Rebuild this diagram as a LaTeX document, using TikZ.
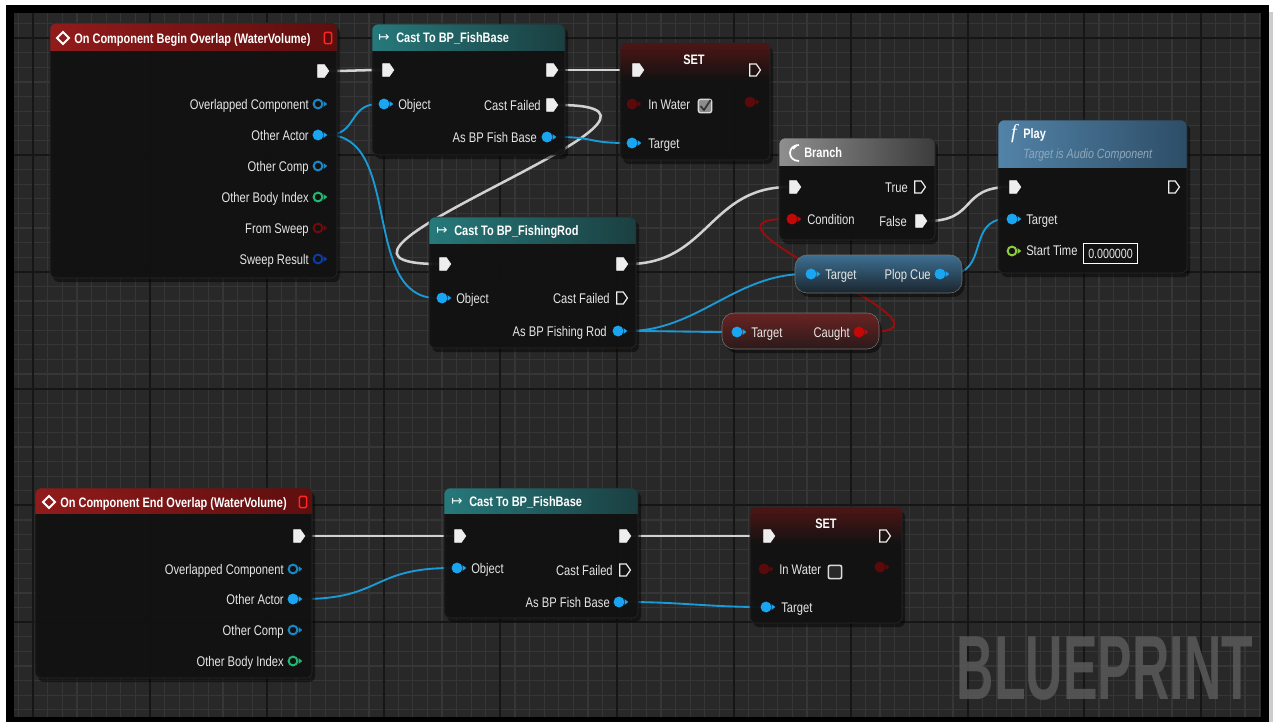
\documentclass[tikz,border=0pt]{standalone}
\usepackage{fontspec}
\usepackage{graphicx}
\setmainfont{Liberation Sans}[FakeStretch=0.8]
\newfontfamily\symfont{DejaVu Sans}
\newfontfamily\fserif{Liberation Serif}
\usetikzlibrary{shapes.symbols}
\definecolor{gridbg}{HTML}{282828}
\definecolor{gridmin}{HTML}{363636}
\definecolor{gridmaj}{HTML}{161616}
\definecolor{nodebg}{HTML}{121212}
\definecolor{nodeedge}{HTML}{2A2A2A}
\definecolor{evL}{HTML}{921B1B}
\definecolor{evR}{HTML}{5E0E0E}
\definecolor{castL}{HTML}{26797B}
\definecolor{castR}{HTML}{1B3F41}
\definecolor{playL}{HTML}{5283A8}
\definecolor{playR}{HTML}{2D4D66}
\definecolor{brL}{HTML}{8F8F8F}
\definecolor{brR}{HTML}{3C3C3C}
\definecolor{setR}{HTML}{4E1515}
\definecolor{lblc}{HTML}{E6E6E6}
\definecolor{execW}{HTML}{EEEEEE}
\definecolor{wireW}{HTML}{D2D2D2}
\definecolor{wireB}{HTML}{1B9AD8}
\definecolor{wireR}{HTML}{9A0D0D}
\definecolor{pinB}{HTML}{1AA5F2}
\definecolor{pinB2}{HTML}{1A86C4}
\definecolor{pinG}{HTML}{22B573}
\definecolor{pinDR}{HTML}{6E0B0B}
\definecolor{pinDB}{HTML}{0C3C9C}
\definecolor{pinR}{HTML}{C40808}
\definecolor{pinYG}{HTML}{8FCA3C}
\definecolor{pinDark}{HTML}{5A0A0A}
\definecolor{subt}{HTML}{8FA8BB}
\definecolor{plopT}{HTML}{3D6F92}
\definecolor{plopB}{HTML}{1B252D}
\definecolor{caughtT}{HTML}{6A2323}
\definecolor{caughtB}{HTML}{2A1A1A}
\definecolor{wmc}{HTML}{5A5A5A}
\pgfdeclarelayer{gridL}
\pgfdeclarelayer{wireL}
\pgfsetlayers{gridL,wireL,main}
\tikzset{
 exe/.style={signal, signal to=east, signal pointer angle=110, minimum width=8.5pt, minimum height=9.5pt, inner sep=0pt, fill=execW, draw=execW, line width=0.4pt},
 exeh/.style={signal, signal to=east, signal pointer angle=110, minimum width=8pt, minimum height=9pt, inner sep=0pt, draw=execW, line width=0.9pt},
 pinf/.style={circle, fill=#1, minimum size=8.2pt, inner sep=0pt},
 pinr/.style={circle, draw=#1, line width=1.5pt, minimum size=6.6pt, inner sep=0pt},
 lbl/.style={text=lblc, font=\fontsize{10.5}{12}\selectfont, inner sep=0pt},
 ttl/.style={text=white, font=\bfseries\fontsize{10.3}{12}\selectfont, inner sep=0pt},
 wexec/.style={draw=wireW, line width=1.9pt},
 wblue/.style={draw=wireB, line width=1.4pt},
 wred/.style={draw=wireR, line width=1.4pt},
 evpin/.style={rectangle, rounded corners=1pt, draw=red!85!white, fill=pinDark, line width=1.1pt, minimum width=5.5pt, minimum height=8.5pt, inner sep=0pt},
 chkon/.style={rectangle, rounded corners=1.5pt, fill=black!45, draw=black!15, line width=1pt, minimum size=10pt, inner sep=0pt},
 chkoff/.style={rectangle, rounded corners=1.5pt, fill=gridbg, draw=black!15, line width=1.2pt, minimum size=10pt, inner sep=0pt},
 valbox/.style={rectangle, draw=white, line width=0.8pt, minimum width=41pt, minimum height=15.5pt, inner sep=0pt, text=lblc, font=\fontsize{10}{12}\selectfont},
 gridminor/.style={draw=gridmin, line width=0.8pt},
 gridmajor/.style={draw=gridmaj, line width=1.4pt},
 icon/.style={text=white, inner sep=0pt, font=\symfont\fontsize{10}{10}\selectfont},
}
\newcommand\dpin[5]{\node[#4=#5] (#1) at (#2,#3) {};
 \fill[#5] (#2+5.5,#3-3) -- (#2+9.2,#3) -- (#2+5.5,#3+3) -- cycle;}
\newcommand\bpbox[6]{%
 \fill[black,opacity=.45,rounded corners=4.5pt] (#1+3,#2+4) rectangle (#3+3,#4+4);
 \fill[nodebg,opacity=.93,rounded corners=4.5pt] (#1,#2) rectangle (#3,#4);
 \begin{scope}\clip[rounded corners=4.5pt] (#1,#2) rectangle (#3,#4);
 \shade[#6] (#1,#2) rectangle (#3,#5);\end{scope}
 \draw[nodeedge,rounded corners=4.5pt] (#1,#2) rectangle (#3,#4);}
\newcommand\bppill[6]{%
 \fill[black,opacity=.45,rounded corners=9pt] (#1+3,#2+4) rectangle (#3+3,#4+4);
 \shade[top color=#5, bottom color=#6, rounded corners=9pt] (#1,#2) rectangle (#3,#4);
 \draw[black!55, rounded corners=9pt] (#1,#2) rectangle (#3,#4);}
\begin{document}
\begin{tikzpicture}[x=0.75pt,y=-0.75pt]
\useasboundingbox (0,0) rectangle (1278,722);
\begin{pgfonlayer}{gridL}
\fill[white] (0,0) rectangle (1278,722);
\fill[black!20] (1269,12) rectangle (1273,722);
\fill[black] (6,5) rectangle (1269,722);
\fill[gridbg] (14,13) rectangle (1261,717);
\begin{scope}
\clip (14,13) rectangle (1261,717);
\foreach \k in {-10,...,76} \draw[gridminor] ({150+\k*14.6},13) -- ({150+\k*14.6},717);
\foreach \k in {-10,...,39} \draw[gridminor] (14,{155+\k*14.6}) -- (1261,{155+\k*14.6});
\foreach \k in {-2,...,10} \draw[gridmajor] ({150+\k*116.8},13) -- ({150+\k*116.8},717);
\foreach \k in {-2,...,5} \draw[gridmajor] (14,{155+\k*116.8}) -- (1261,{155+\k*116.8});
\end{scope}
\node[inner sep=0pt, text=wmc, text opacity=.85] (wm) at (1105,668.5) {\resizebox{222pt}{47pt}{\bfseries BLUEPRINT}};
\end{pgfonlayer}

% ---------- Begin overlap event ----------
\bpbox{50}{23}{337}{278}{50}{left color=evL, right color=evR}
\draw[white, line width=1.4pt] (63,32)--(69,38)--(63,44)--(57,38)--cycle;
\node[ttl, anchor=mid west] (A_t) at (74,39.5) {On Component Begin Overlap (WaterVolume)};
\node[evpin] (A_del) at (328,38) {};
\node[exe] (A_x) at (321,71) {};
\dpin{A_oc}{318}{104}{pinr}{pinB2}
\dpin{A_oa}{318}{135}{pinf}{pinB}
\dpin{A_cp}{318}{166}{pinr}{pinB2}
\dpin{A_bi}{318}{197}{pinr}{pinG}
\dpin{A_fs}{318}{228}{pinr}{pinDR}
\dpin{A_sr}{318}{259}{pinr}{pinDB}
\node[lbl, anchor=mid east] (A_l1) at (309,105.5) {Overlapped Component};
\node[lbl, anchor=mid east] (A_l2) at (309,136.5) {Other Actor};
\node[lbl, anchor=mid east] (A_l3) at (309,167.5) {Other Comp};
\node[lbl, anchor=mid east] (A_l4) at (309,198.5) {Other Body Index};
\node[lbl, anchor=mid east] (A_l5) at (309,229.5) {From Sweep};
\node[lbl, anchor=mid east] (A_l6) at (309,260.5) {Sweep Result};

% ---------- Cast To BP_FishBase (top) ----------
\bpbox{372}{24}{565}{155}{50}{left color=castL, right color=castR}
\node[icon] (B_ic) at (384,38) {↦};
\node[ttl, anchor=mid west] (B_t) at (396,39) {Cast To BP\_FishBase};
\node[exe] (B_in) at (386,70) {};
\node[exe] (B_out) at (550,70) {};
\dpin{B_obj}{384}{104}{pinf}{pinB}
\node[lbl, anchor=mid west] (B_l1) at (398,105.5) {Object};
\node[exe] (B_cf) at (550,105) {};
\node[lbl, anchor=mid east] (B_l2) at (541,106.5) {Cast Failed};
\dpin{B_as}{547}{137}{pinf}{pinB}
\node[lbl, anchor=mid east] (B_l3) at (537,138.5) {As BP Fish Base};

% ---------- SET (top) ----------
\bpbox{620}{43}{770}{160}{80}{top color=setR, bottom color=nodebg}
\node[ttl] (C_t) at (694,60) {SET};
\node[exe] (C_in) at (636,70) {};
\node[exeh] (C_out) at (753,70) {};
\dpin{C_iw}{632}{104}{pinf}{pinDark}
\node[lbl, anchor=mid west] (C_l1) at (648,105.5) {In Water};
\node[chkon] (C_cb) at (705,106) {};
\draw[black!80, line width=1.3pt] (700.5,106) -- (704,110) -- (710.5,100);
\dpin{C_ow}{750}{102}{pinf}{pinDark}
\dpin{C_tg}{632}{143}{pinf}{pinB}
\node[lbl, anchor=mid west] (C_l2) at (648,144.5) {Target};

% ---------- Branch ----------
\bpbox{779}{138}{935}{240}{165}{left color=brL, right color=brR}
\draw[white, line width=1.3pt] (799,145) .. controls (787,145) and (787,161) .. (799,161);
\draw[white, line width=1.3pt] (793,149) -- (797,145);
\node[ttl, anchor=mid west] (D_t) at (804,154) {Branch};
\node[exe] (D_in) at (793,187) {};
\node[lbl, anchor=mid east] (D_l1) at (908,188.5) {True};
\node[exeh] (D_t2) at (918,187) {};
\dpin{D_c}{792}{219}{pinf}{pinR}
\node[lbl, anchor=mid west] (D_l2) at (807,221) {Condition};
\node[lbl, anchor=mid east] (D_l3) at (907,222.5) {False};
\node[exe] (D_f) at (919,221) {};

% ---------- Play ----------
\bpbox{998}{120}{1187}{273}{167}{left color=playL, right color=playR}
\node[text=white, inner sep=0pt] (E_f) at (1014,134) {\fserif\itshape\fontsize{15}{15}\selectfont f};
\node[ttl, anchor=mid west] (E_t) at (1023,135) {Play};
\node[text=subt, inner sep=0pt, anchor=mid west, font=\itshape\fontsize{10}{12}\selectfont] (E_sub) at (1023,155) {Target is Audio Component};
\node[exe] (E_in) at (1013,187) {};
\node[exeh] (E_out) at (1172,187) {};
\dpin{E_tg}{1012}{219}{pinf}{pinB}
\node[lbl, anchor=mid west] (E_l1) at (1026,220.5) {Target};
\dpin{E_st}{1012}{251}{pinr}{pinYG}
\node[lbl, anchor=mid west] (E_l2) at (1026,251.5) {Start Time};
\node[valbox] (E_val) at (1110.5,253.5) {0.000000};

% ---------- Plop Cue getter ----------
\bppill{795}{255}{962}{293}{plopT}{plopB}
\dpin{F_tg}{811}{274}{pinf}{pinB}
\node[lbl, anchor=mid west] (F_l1) at (825,275.5) {Target};
\node[lbl, anchor=mid east] (F_l2) at (931,275.5) {Plop Cue};
\dpin{F_pc}{940}{274}{pinf}{pinB}

% ---------- Caught getter ----------
\bppill{722}{313}{879}{349}{caughtT}{caughtB}
\dpin{G_tg}{737}{332}{pinf}{pinB}
\node[lbl, anchor=mid west] (G_l1) at (751,333.5) {Target};
\node[lbl, anchor=mid east] (G_l2) at (850,333.5) {Caught};
\dpin{G_c}{859}{332}{pinf}{pinR}

% ---------- Cast To BP_FishingRod ----------
\bpbox{429}{217}{636}{348}{243}{left color=castL, right color=castR}
\node[icon] (H_ic) at (442,231) {↦};
\node[ttl, anchor=mid west] (H_t) at (454,232) {Cast To BP\_FishingRod};
\node[exe] (H_in) at (443,264) {};
\node[exe] (H_out) at (620,264) {};
\dpin{H_obj}{442}{298}{pinf}{pinB}
\node[lbl, anchor=mid west] (H_l1) at (456,299.5) {Object};
\node[exeh] (H_cf) at (620,298) {};
\node[lbl, anchor=mid east] (H_l2) at (610,299.5) {Cast Failed};
\dpin{H_as}{618}{331}{pinf}{pinB}
\node[lbl, anchor=mid east] (H_l3) at (607,332.5) {As BP Fishing Rod};

% ---------- End overlap event ----------
\bpbox{35}{488}{312}{678}{513}{left color=evL, right color=evR}
\draw[white, line width=1.4pt] (49,496)--(55,502)--(49,508)--(43,502)--cycle;
\node[ttl, anchor=mid west] (I_t) at (60,503.5) {On Component End Overlap (WaterVolume)};
\node[evpin] (I_del) at (303,502) {};
\node[exe] (I_x) at (297,536) {};
\dpin{I_oc}{293}{569}{pinr}{pinB2}
\dpin{I_oa}{293}{599}{pinf}{pinB}
\dpin{I_cp}{293}{630}{pinr}{pinB2}
\dpin{I_bi}{293}{661}{pinr}{pinG}
\node[lbl, anchor=mid east] (I_l1) at (284,570.5) {Overlapped Component};
\node[lbl, anchor=mid east] (I_l2) at (284,600.5) {Other Actor};
\node[lbl, anchor=mid east] (I_l3) at (284,631.5) {Other Comp};
\node[lbl, anchor=mid east] (I_l4) at (284,662.5) {Other Body Index};

% ---------- Cast To BP_FishBase (bottom) ----------
\bpbox{444}{488}{638}{618}{513}{left color=castL, right color=castR}
\node[icon] (J_ic) at (457,502) {↦};
\node[ttl, anchor=mid west] (J_t) at (469,503) {Cast To BP\_FishBase};
\node[exe] (J_in) at (458,536) {};
\node[exe] (J_out) at (623,536) {};
\dpin{J_obj}{457}{568}{pinf}{pinB}
\node[lbl, anchor=mid west] (J_l1) at (471,569.5) {Object};
\node[exeh] (J_cf) at (623,570) {};
\node[lbl, anchor=mid east] (J_l2) at (613,571.5) {Cast Failed};
\dpin{J_as}{619}{602}{pinf}{pinB}
\node[lbl, anchor=mid east] (J_l3) at (610,603.5) {As BP Fish Base};

% ---------- SET (bottom) ----------
\bpbox{750}{507}{902}{623}{544}{top color=setR, bottom color=nodebg}
\node[ttl] (K_t) at (826,524) {SET};
\node[exe] (K_in) at (767,536) {};
\node[exeh] (K_out) at (883,536) {};
\dpin{K_iw}{764}{569}{pinf}{pinDark}
\node[lbl, anchor=mid west] (K_l1) at (779,570.5) {In Water};
\node[chkoff] (K_cb) at (835,572) {};
\dpin{K_ow}{880}{567}{pinf}{pinDark}
\dpin{K_tg}{766}{607}{pinf}{pinB}
\node[lbl, anchor=mid west] (K_l2) at (781,608.5) {Target};

% ---------- Wires ----------
\begin{pgfonlayer}{wireL}
\draw[wexec] (A_x.east) .. controls +(20,0) and +(-20,0) .. (B_in.west);
\draw[wexec] (B_out.east) .. controls +(30,0) and +(-30,0) .. (C_in.west);
\draw[wexec] (B_cf.east) .. controls +(185,0) and +(-185,0) .. (H_in.west);
\draw[wexec] (H_out.east) .. controls +(80,0) and +(-80,0) .. (D_in.west);
\draw[wexec] (D_f.east) .. controls +(50,0) and +(-50,0) .. (E_in.west);
\draw[wexec] (I_x.east) .. controls +(50,0) and +(-50,0) .. (J_in.west);
\draw[wexec] (J_out.east) .. controls +(50,0) and +(-50,0) .. (K_in.west);
\draw[wblue] ([xshift=2.8pt]A_oa.east) .. controls +(30,0) and +(-30,0) .. (B_obj.west);
\draw[wblue] ([xshift=2.8pt]A_oa.east) .. controls +(75,0) and +(-75,0) .. (H_obj.west);
\draw[wblue] ([xshift=2.8pt]B_as.east) .. controls +(40,0) and +(-40,0) .. (C_tg.west);
\draw[wblue] ([xshift=2.8pt]H_as.east) .. controls +(70,0) and +(-70,0) .. (F_tg.west);
\draw[wblue] ([xshift=2.8pt]H_as.east) .. controls +(40,0) and +(-40,0) .. (G_tg.west);
\draw[wblue] ([xshift=2.8pt]F_pc.east) .. controls +(40,0) and +(-40,0) .. (E_tg.west);
\draw[wblue] ([xshift=2.8pt]I_oa.east) .. controls +(80,0) and +(-80,0) .. (J_obj.west);
\draw[wblue] ([xshift=2.8pt]J_as.east) .. controls +(50,0) and +(-50,0) .. (K_tg.west);
\draw[wred] ([xshift=2.8pt]G_c.east) .. controls +(115,0) and +(-115,0) .. (D_c.west);
\end{pgfonlayer}
\end{tikzpicture}
\end{document}
